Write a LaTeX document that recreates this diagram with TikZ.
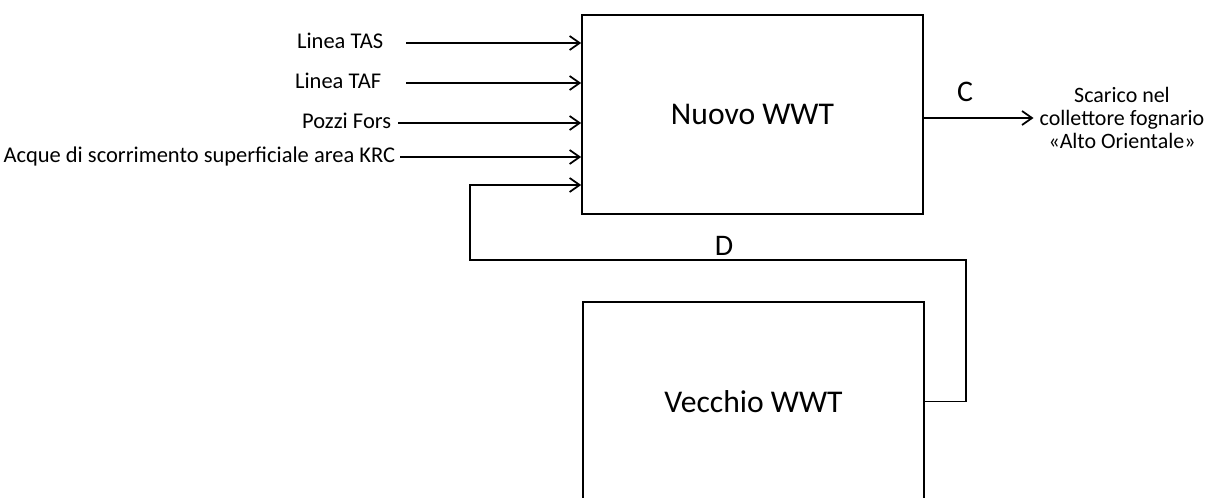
\documentclass[tikz,border=0pt]{standalone}
\usepackage{fontspec}
\setmainfont{Carlito}
\usetikzlibrary{arrows.meta, positioning}

\begin{document}
\begin{tikzpicture}[x=0.02cm, y=-0.02cm, line width=1pt,
    >={Straight Barb[length=2mm, width=2.8mm]},
    blocco/.style={draw, rectangle, minimum width=6.82cm, minimum height=3.98cm,
        font=\fontsize{18}{22}\selectfont},
    etichetta/.style={inner sep=0pt, text height=1.6ex, text depth=0.4ex,
        font=\fontsize{12.8}{15}\selectfont},
    lettera/.style={font=\fontsize{17}{20}\selectfont}]
    % Area del disegno (il blocco inferiore esce dal foglio)
    \useasboundingbox (0,0) rectangle (1210,497);
    \clip (0,0) rectangle (1210,497);

    % 1. I due impianti
    \node[blocco] (nuovo) at (752.5,114.5) {Nuovo WWT};
    \node[blocco] (vecchio) at (753.5,401.5) {Vecchio WWT};

    % 2. Ingressi al nuovo impianto
    \node[etichetta, anchor=east] (tas) at (384,43) {Linea TAS};
    \node[etichetta, anchor=east] (taf) at (382,83) {Linea TAF};
    \node[etichetta, anchor=east] (pozzi) at (392,123) {Pozzi Fors};
    \node[etichetta, anchor=east] (acque) at (396,157) {Acque di scorrimento superficiale area KRC};

    \draw[->] ([xshift=0.44cm]tas.east) -- (tas.east -| nuovo.west);
    \draw[->] ([xshift=0.48cm]taf.east) -- (taf.east -| nuovo.west);
    \draw[->] ([xshift=0.12cm]pozzi.east) -- (pozzi.east -| nuovo.west);
    \draw[->] ([xshift=0.08cm]acque.east) -- (acque.east -| nuovo.west);

    % 3. Uscita C verso il collettore
    \node[inner sep=3pt, align=center, font=\fontsize{12.5}{13.3}\selectfont] (scarico) at (1122,118)
        {Scarico nel\\collettore fognario\\«Alto Orientale»};
    \draw[->] (scarico.west -| nuovo.east) -- (scarico.west);
    \node[lettera] (c) at (965,92) {C};

    % 4. Ricircolo D dal vecchio al nuovo impianto
    \coordinate (dx) at (966,260);
    \coordinate (sx) at (470,260);
    \draw[->] (vecchio.east) -| (dx) -- (sx) |- ([yshift=-1.41cm]nuovo.west);
    \node[lettera] (d) at (724,246) {D};

\end{tikzpicture}
\end{document}
